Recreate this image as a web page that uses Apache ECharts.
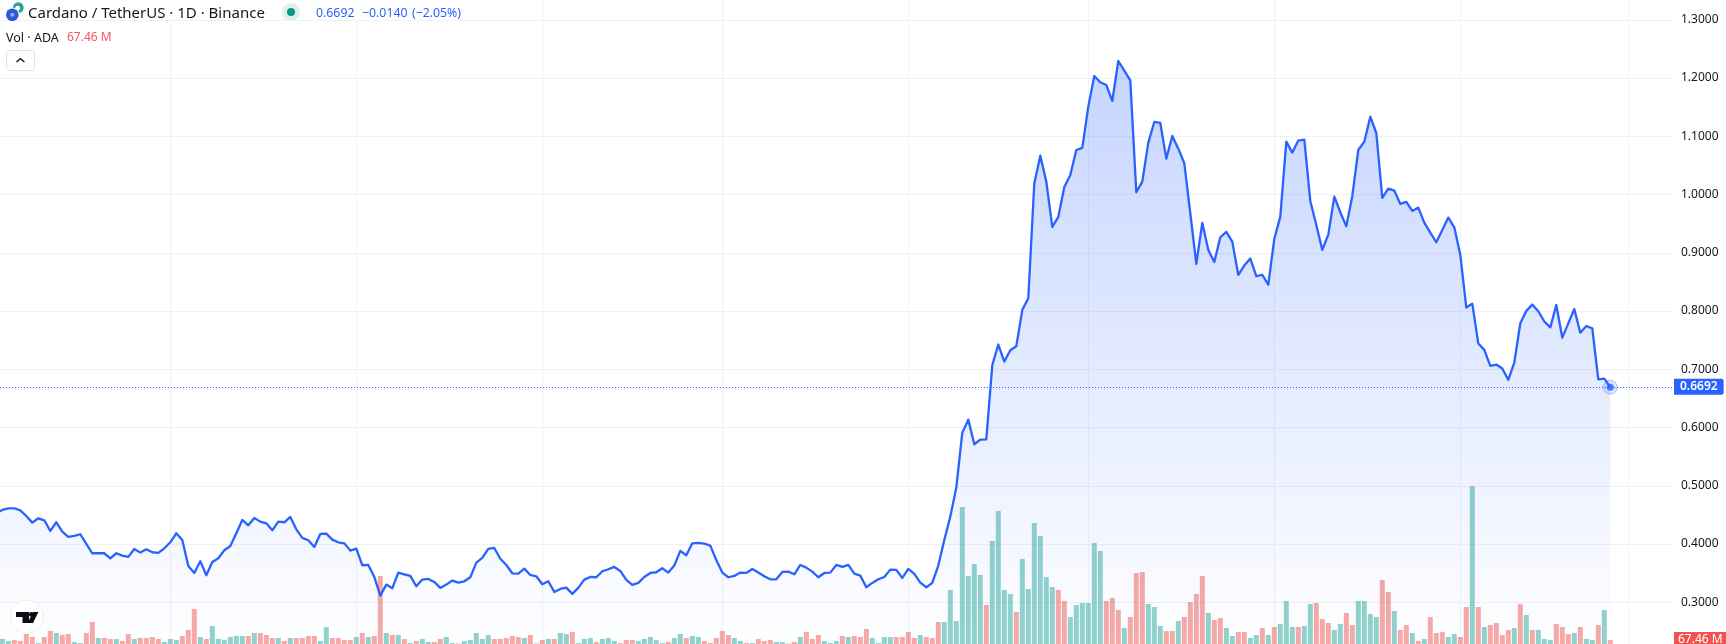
<!DOCTYPE html>
<html>
<head>
<meta charset="utf-8">
<style>html,body{margin:0;padding:0;background:#fff;overflow:hidden}#c{width:1726px;height:644px}</style>
<script src="https://cdn.jsdelivr.net/npm/echarts@6/dist/echarts.min.js"></script>
</head>
<body>
<div id="c"></div>
<script>
const FIRST_DAY = '2024-06-02';
const priceTicks = { min: 0.2, max: 1.4, step: 0.1 };
const lastPrice = 0.6692;
const lastVolume = 67.46;

const prices = [
.4528,.4585,.4614,.4614,.4579,.4482,.4368,.4442,.4408,.4225,
.4374,.4213,.4122,.4139,.4168,.4002,.3842,.3842,.3842,.3756,
.3842,.3802,.3779,.3916,.3853,.3910,.3859,.3847,.3927,.4030,
.4185,.4070,.3624,.3504,.3704,.3464,.3693,.3756,.3893,.3967,
.4185,.4414,.4322,.4448,.4385,.4356,.4236,.4385,.4374,.4465,
.4253,.4105,.4065,.3950,.4173,.4179,.4076,.4030,.4013,.3887,
.3922,.3636,.3641,.3435,.3115,.3304,.3241,.3510,.3481,.3453,
.3275,.3390,.3401,.3350,.3247,.3304,.3373,.3338,.3361,.3430,
.3681,.3762,.3916,.3933,
.3747,.3641,.3498,.3493,.3578,.3470,.3447,.3310,.3361,.3178,
.3230,.3252,.3144,.3247,.3390,.3435,.3430,.3533,.3567,.3607,
.3538,.3384,.3298,.3333,.3435,.3504,.3516,.3584,.3510,.3630,
.3882,.3807,.4013,.4019,.4007,.3973,.3727,.3510,.3430,.3453,
.3510,.3504,.3573,.3510,.3447,.3395,.3395,.3521,.3527,.3481,
.3641,.3596,.3527,.3430,.3504,.3510,.3641,.3607,.3641,.3493,
.3458,.3258,.3333,.3395,.3435,.3561,.3556,.3418,.3573,.3487,
.3338,.3258,.3333,.3630,.4070,.4471,
.4970,.5913,.6136,.5713,.5793,.5798,.7074,
.7425,.7133,.7328,.7396,.8020,.8220,1.0193,1.0668,1.0222,.9444,
.9616,1.0130,1.0336,1.0765,1.0800,1.1509,1.2035,1.1927,1.1881,1.1606,
1.2293,1.2127,1.1961,1.0039,1.0222,1.0891,1.1246,1.1229,1.0617,1.1006,
1.0788,1.0537,.9679,.8809,.9513,.9049,.8843,.9267,.9358,.9192,.8620,
.8781,.8901,.8598,.8620,.8455,.9238,.9621,1.0908,1.0720,1.0926,
1.0943,.9890,.9478,.9049,.9313,.9965,.9696,.9456,.9976,1.0765,
1.0908,1.1337,1.1057,.9942,1.0102,1.0068,.9839,.9873,.9719,.9776,
.9519,.9347,.9181,.9393,.9604,.9438,.8964,.8060,.8128,.7442,
.7333,.7059,.7082,.7013,.6819,.7116,.7791,.8003,.8111,.7997,.7820,.7720,
.8104,.7543,.7789,.8035,.7629,.7743,.7703,.6828,.6839,.6692
];

const volumes = [
85,85,51,68,51,169,118,17,118,220,186,152,169,34,17,186,372,101,101,85,
85,51,169,85,101,101,118,85,34,85,68,135,237,592,118,85,304,85,68,118,
135,135,135,186,186,152,101,101,51,101,101,101,135,135,51,287,101,101,68,68,
118,186,118,135,1149,186,152,152,85,17,51,85,34,34,85,118,17,8,51,68,
186,85,152,85,
85,101,135,118,101,152,8,68,85,85,186,169,203,17,85,101,34,85,101,51,
17,68,68,51,85,118,68,17,34,101,169,101,135,118,51,17,101,220,152,101,
51,17,17,85,51,68,34,34,8,34,118,203,85,152,51,17,51,135,118,135,
118,254,101,17,118,118,118,118,203,101,152,118,101,372,372,913,389,2315,1149,1352,
1166,659,1741,2248,913,845,541,1437,930,2045,1825,1132,963,913,727,456,659,693,693,1707,
1572,727,777,575,270,456,1200,1217,676,625,304,220,220,389,456,710,845,1149,524,406,
439,270,135,203,203,101,152,270,152,287,338,727,287,287,304,676,693,423,355,237,
338,524,321,727,727,507,456,1082,879,558,237,321,186,51,85,456,186,203,118,169,
118,625,2670,625,287,321,355,152,237,270,676,490,237,237,85,68,338,287,169,186,
287,85,68,321,575,67.46
];

const volumeUp = [
1,1,1,0,0,0,0,1,0,0,1,0,0,1,1,0,0,1,0,0,
1,0,0,1,0,0,0,0,1,1,1,0,0,0,1,0,1,1,1,1,
1,1,0,1,0,0,0,1,0,1,0,0,0,0,1,1,0,0,0,0,
1,0,1,0,0,1,0,1,0,1,0,1,1,0,0,1,1,0,1,1,
1,1,1,0,
0,0,0,0,1,0,1,0,1,0,1,1,0,1,1,1,0,1,1,1,
0,0,0,1,1,1,1,1,0,1,1,0,1,1,0,0,0,0,0,1,
1,0,1,0,0,0,1,1,0,0,1,0,0,0,1,1,1,0,1,0,
0,0,1,1,1,1,0,0,0,0,1,0,0,0,1,1,1,1,1,1,
1,0,1,1,1,1,0,1,1,1,1,1,1,0,0,1,1,1,1,1,
1,0,0,0,1,0,0,0,1,1,1,0,0,1,0,0,0,0,1,0,
0,1,1,0,0,1,1,0,1,0,1,1,1,0,1,1,0,0,0,1,
1,0,0,1,1,1,1,0,0,1,0,0,1,0,1,0,0,0,1,1,
0,0,1,0,1,0,0,0,0,1,0,1,0,1,1,1,0,0,0,1,
0,1,1,0,1,0,0,1,0
];

const dayMs = 86400000;
const firstMs = Date.parse(FIRST_DAY + 'T00:00:00Z');
const dates = prices.map((_, i) => firstMs + i * dayMs);
const priceSeries = prices.map((p, i) => [dates[i], p]);
const volumeSeries = volumes.map((v, i) => ({
  value: [dates[i], v],
  itemStyle: { color: volumeUp[i] ? 'rgba(38,166,154,0.5)' : 'rgba(239,83,80,0.5)' }
}));
const lastPoint = [[dates[dates.length - 1], lastPrice]];

const FONT = '"Noto Sans", sans-serif';
const INK = '#131722';
const BLUE = '#2962ff';

const chart = echarts.init(document.getElementById('c'), null, { renderer: 'canvas', width: 1726, height: 644 });

const text = (x, y, s, size, fill, extra) => ({
  type: 'text', x, y, z: 100, silent: true,
  style: Object.assign({ text: s, fill, font: size + 'px ' + FONT, verticalAlign: 'middle' }, extra || {})
});

chart.setOption({
  animation: false,
  useUTC: true,
  backgroundColor: '#ffffff',
  grid: { left: 0, right: 53, top: -38.45, bottom: -16.55, containLabel: false, outerBoundsMode: 'none' },
  xAxis: {
    type: 'time',
    // the library widens a time axis by half a bar on each side; these bounds allow for it
    min: firstMs + ((3.7 + 2.5) / 6) * dayMs,
    max: firstMs + ((1673 + 3.7 - 2.5) / 6) * dayMs,
    splitNumber: 9,
    axisLine: { show: false }, axisTick: { show: false }, axisLabel: { show: false },
    splitLine: { show: true, showMinLine: false, showMaxLine: false, lineStyle: { color: '#f0f1f3', width: 1 } }
  },
  yAxis: [
    {
      type: 'value', position: 'right',
      min: priceTicks.min, max: priceTicks.max, interval: priceTicks.step,
      axisLine: { show: false }, axisTick: { show: false },
      axisLabel: { margin: 8, color: INK, fontFamily: FONT, fontSize: 12, formatter: v => v.toFixed(4) },
      splitLine: { show: true, lineStyle: { color: '#f0f1f3', width: 1 } }
    },
    {
      type: 'value', position: 'left',
      min: -280, max: 11533,
      axisLine: { show: false }, axisTick: { show: false }, axisLabel: { show: false }, splitLine: { show: false }
    }
  ],
  series: [
    {
      type: 'bar', name: 'Vol', xAxisIndex: 0, yAxisIndex: 1, z: 1, barWidth: 5, silent: true,
      data: volumeSeries,
      markLine: {
        silent: true, symbol: 'none', animation: false, z: 20,
        lineStyle: { color: 'rgba(0,0,0,0)', width: 1, type: 'solid' },
        label: {
          show: true, position: 'end', distance: 1, formatter: lastVolume + ' M',
          color: '#fff', fontFamily: FONT, fontSize: 12, backgroundColor: '#ef5350', padding: [3, 4, 1, 4], lineHeight: 12
        },
        data: [{ yAxis: lastVolume }]
      }
    },
    {
      type: 'line', name: 'ADAUSDT', xAxisIndex: 0, yAxisIndex: 0, z: 3, silent: true,
      data: priceSeries, showSymbol: false, symbol: 'none', smooth: false,
      lineStyle: { color: BLUE, width: 2.3, join: 'round' },
      areaStyle: {
        origin: 'start',
        opacity: 1,
        color: new echarts.graphic.LinearGradient(0, 0, 0, 1, [
          { offset: 0, color: 'rgba(41,98,255,0.27)' },
          { offset: 0.94, color: 'rgba(41,98,255,0.01)' },
          { offset: 1, color: 'rgba(41,98,255,0.0)' }
        ])
      },
      markLine: {
        silent: true, symbol: 'none', animation: false, z: 20,
        lineStyle: { color: BLUE, width: 1, type: [1, 2] },
        label: {
          show: true, position: 'end', distance: 1, formatter: lastPrice.toFixed(4),
          color: '#fff', fontFamily: FONT, fontSize: 12, fontWeight: 600, backgroundColor: BLUE, padding: [3, 6, 1, 6], lineHeight: 12, borderRadius: [0, 2, 2, 0]
        },
        data: [{ yAxis: lastPrice }]
      }
    },
    {
      type: 'scatter', xAxisIndex: 0, yAxisIndex: 0, z: 4, silent: true, symbolSize: 14,
      data: lastPoint,
      itemStyle: { color: 'rgba(41,98,255,0.2)', borderColor: 'rgba(41,98,255,0.4)', borderWidth: 1 }
    },
    {
      type: 'scatter', xAxisIndex: 0, yAxisIndex: 0, z: 5, silent: true, symbolSize: 7,
      data: lastPoint, itemStyle: { color: BLUE }
    }
  ],
  graphic: [
    { type: 'rect', z: 90, silent: true, shape: { x: 0, y: 0, width: 465, height: 19 }, style: { fill: '#fff' } },
    { type: 'circle', z: 100, silent: true, shape: { cx: 18.3, cy: 7.6, r: 5.4 }, style: { fill: '#26a69a' } },
    { type: 'circle', z: 100, silent: true, shape: { cx: 17.6, cy: 8.2, r: 2.4 }, style: { fill: '#fff' } },
    { type: 'circle', z: 100, silent: true, shape: { cx: 12.3, cy: 14.7, r: 7.3 }, style: { fill: '#fff' } },
    { type: 'circle', z: 100, silent: true, shape: { cx: 12.3, cy: 14.7, r: 6.3 }, style: { fill: '#2a5ad6' } },
    { type: 'circle', z: 100, silent: true, shape: { cx: 12.3, cy: 14.7, r: 2 }, style: { fill: '#8fb0ff' } },
    text(28, 14, 'Cardano / TetherUS · 1D · Binance', 15, INK),
    { type: 'circle', z: 100, silent: true, shape: { cx: 291, cy: 12, r: 9 }, style: { fill: '#dcf1ee' } },
    { type: 'circle', z: 100, silent: true, shape: { cx: 291, cy: 12, r: 4 }, style: { fill: '#089981' } },
    text(316, 13.5, '0.6692', 12.3, BLUE),
    text(362, 13.5, '−0.0140', 12.3, BLUE),
    text(412, 13.5, '(−2.05%)', 12.3, BLUE),
    text(6, 38, 'Vol · ADA', 12.5, INK),
    text(67, 38, '67.46 M', 12, '#f7525f'),
    { type: 'rect', z: 100, silent: true, shape: { x: 6.5, y: 50.5, width: 28, height: 20, r: 3 }, style: { fill: '#fff', stroke: '#dfe1e6', lineWidth: 1 } },
    { type: 'polyline', z: 101, silent: true, shape: { points: [[16.5, 62], [20.4, 58.6], [24.4, 62]] }, style: { stroke: INK, fill: 'none', lineWidth: 1.4 } },
    { type: 'circle', z: 100, silent: true, shape: { cx: 26.7, cy: 616.7, r: 16.5 }, style: { fill: '#fff', stroke: '#eeeff1', lineWidth: 1 } },
    { type: 'polygon', z: 101, silent: true, shape: { points: [[16, 612], [29, 612], [29, 623], [22.5, 623], [22.5, 617], [16, 617]] }, style: { fill: '#0c0e13' } },
    { type: 'circle', z: 101, silent: true, shape: { cx: 31.3, cy: 614.4, r: 2.4 }, style: { fill: '#0c0e13' } },
    { type: 'polygon', z: 101, silent: true, shape: { points: [[33, 612], [38.4, 612], [33, 623], [27.6, 623]] }, style: { fill: '#0c0e13' } }
  ]
});
</script>
</body>
</html>
